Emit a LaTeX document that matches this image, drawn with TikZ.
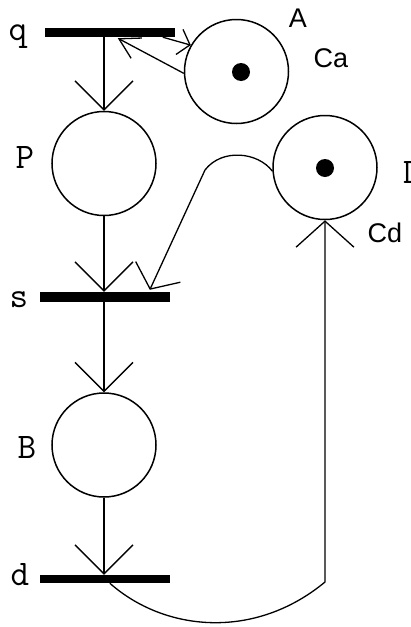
\documentclass[tikz,border=0pt]{standalone}
\usepackage{fontspec}
\setmainfont{Liberation Sans}
\usetikzlibrary{arrows.meta,calc}
\begin{document}
\begin{tikzpicture}[x=1pt,y=-1pt,
  place/.style={circle,draw,line width=1.5pt,minimum size=104pt,inner sep=0pt},
  trans/.style={rectangle,fill=black,minimum width=130pt,inner sep=0pt},
  token/.style={circle,fill=black,minimum size=18pt,inner sep=0pt},
  conn/.style={line width=1.3pt},
  bigtip/.style={-{Straight Barb[angle=90:41pt]}},
  lblserif/.style={font=\ttfamily\fontsize{36}{40}\selectfont,inner sep=0pt,anchor=base},
  lblsans/.style={font=\fontsize{27}{30}\selectfont,inner sep=0pt,anchor=base}]
\fill[white] (0,0) rectangle (410,627);
\useasboundingbox (0,0) rectangle (410,627);
% transitions
\node[trans,minimum height=9pt] (q) at (110,32.5) {};
\node[trans,minimum height=10pt] (s) at (105,297) {};
\node[trans,minimum height=8pt] (d) at (105,579) {};
% places
\node[place] (A) at (236.5,71.5) {};
\node[place] (P) at (104,163.5) {};
\node[place] (D) at (325,167.5) {};
\node[place] (B) at (104,445) {};
% tokens
\node[token] (ta) at (241,72) {};
\node[token] (td) at (325,168) {};
% connectors
\draw[conn,bigtip] (q.south -| P.north) -- (P.north);
\draw[conn,bigtip] (P.south) -- (P.south |- s.north);
\draw[conn,bigtip] (s.south -| B.north) -- (B.north);
\draw[conn,bigtip] (B.south) -- (B.south |- d.north);
\coordinate (qin) at ($(q.south west)+(73,1)$);
\coordinate (qout) at ($(q.south west)+(118,0)$);
\draw[conn,-{Straight Barb[angle=60:23pt]}] (A.182) -- (qin);
\draw[conn,-{Straight Barb[angle=100:17pt]}] (qout) -- (A.150);
\coordinate (sin) at ($(s.north west)+(110,-2)$);
\draw[conn,-{Straight Barb[angle=105:31pt]}] (D.184) .. controls (258,152) and (222,148) .. (205,170) -- (sin);
\coordinate (dout) at ($(d.south west)+(70,0)$);
\coordinate (dturn) at (D.south |- 0,582);
\draw[conn,-{Straight Barb[angle=96:39pt]}] (dout) .. controls (165,632) and (255,640) .. (dturn) -- (D.south);
% labels
\node[lblserif] (lq) at (18,40) {q};
\node[lblserif] (lp) at (25,168) {P};
\node[lblserif] (ls) at (19,307) {s};
\node[lblserif] (lb) at (27,458) {B};
\node[lblserif] (ld) at (20,585) {d};
\node[lblserif,anchor=base west] (lD) at (403,183) {D};
\node[lblsans] (la) at (298,27) {A};
\node[lblsans] (lca) at (331,67) {Ca};
\node[lblsans] (lcd) at (385,242) {Cd};
\end{tikzpicture}
\end{document}
